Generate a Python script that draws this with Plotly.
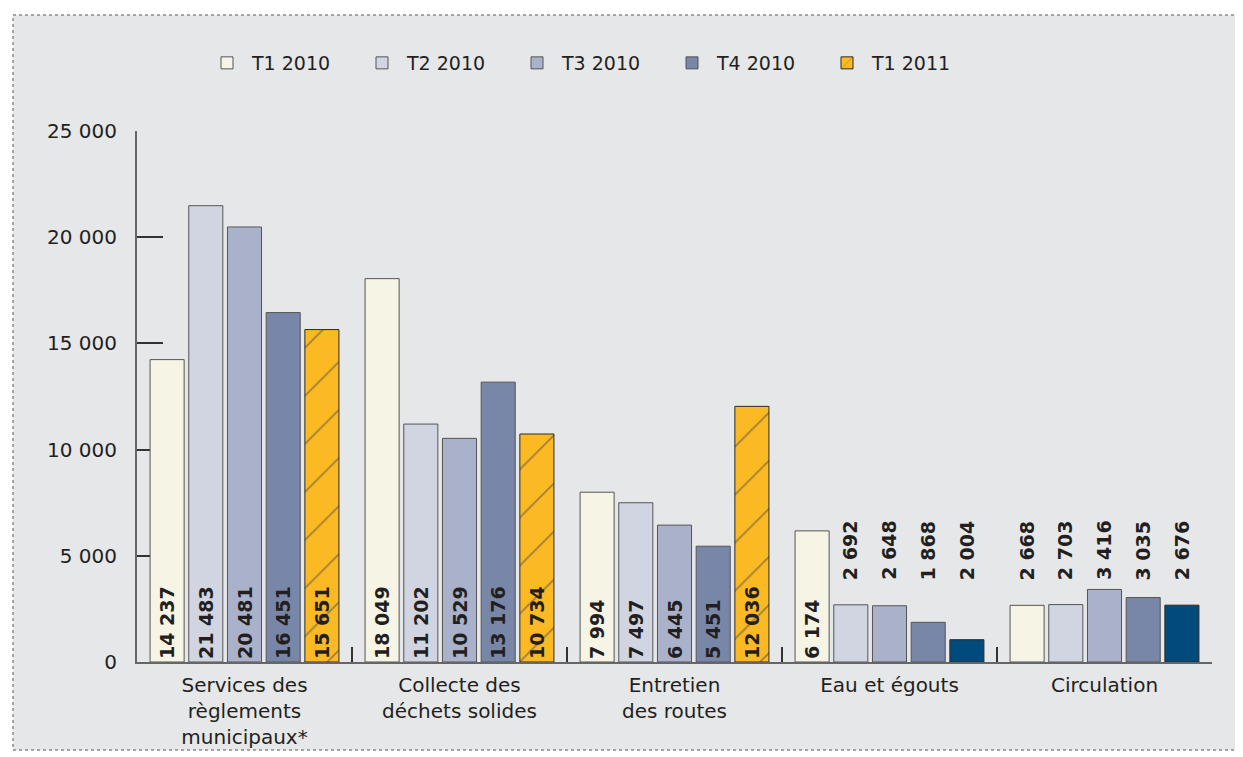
import plotly.graph_objects as go

categories = ["Services des<br>règlements<br>municipaux*", "Collecte des<br>déchets solides",
              "Entretien<br>des routes", "Eau et égouts", "Circulation"]
series_names = ["T1 2010", "T2 2010", "T3 2010", "T4 2010", "T1 2011"]

t1_2010 = [14237, 18049, 7994, 6174, 2668]
t2_2010 = [21483, 11202, 7497, 2692, 2703]
t3_2010 = [20481, 10529, 6445, 2648, 3416]
t4_2010 = [16451, 13176, 5451, 1868, 3035]
t1_2011 = [15651, 10734, 12036, 1050, 2676]          # bar heights as drawn
t1_2011_labels = [15651, 10734, 12036, 2004, 2676]   # printed labels

values = [t1_2010, t2_2010, t3_2010, t4_2010, t1_2011]
labels = [t1_2010, t2_2010, t3_2010, t4_2010, t1_2011_labels]

colors = ["#f6f4e5", "#d1d5e2", "#aab1cb", "#7886a8", "#fbb923"]
t1_2011_colors = ["#fbb923", "#fbb923", "#fbb923", "#004a7c", "#004a7c"]
t1_2011_hatch = ["/", "/", "/", "", ""]

TXT = "#231f20"
FONT = "DejaVu Sans"

def fmt(v):
    return f"{v:,}".replace(",", " ")

# page offset (body margin) and plot area in screen pixels
OFF = 8
FW, FH = 1243, 757
L, R, T, B = 137, 1212, 131, 662
W, H = R - L, B - T
def px(x): return (x - L) / W
def py(y): return (B - y) / H

BARGAP = 0.1
slot = (1 - BARGAP) / 5
INSIDE_MIN = 5000
OUT_Y = 3750

fig = go.Figure()
annotations = []
for j, name in enumerate(series_names):
    vals = values[j]
    texts = [fmt(l) if v >= INSIDE_MIN else "" for v, l in zip(vals, labels[j])]
    if j == 4:
        marker = dict(color=t1_2011_colors, line=dict(color="#2a2a2a", width=1),
                      pattern=dict(shape=t1_2011_hatch, fgcolor="#1a1a1a",
                                   size=34, solidity=0.05, fillmode="overlay"))
    else:
        marker = dict(color=colors[j], line=dict(color="#555555", width=1))
    fig.add_trace(go.Bar(
        name=name, x=categories, y=vals, marker=marker,
        text=texts, textposition="inside", insidetextanchor="start", textangle=-90,
        constraintext="none",
        insidetextfont=dict(family=FONT, size=19, color=TXT, weight=600),
    ))
    for i, (v, l) in enumerate(zip(vals, labels[j])):
        if v < INSIDE_MIN:
            annotations.append(dict(
                x=i + (j - 2) * slot, y=OUT_Y, xref="x", yref="y",
                text=fmt(l), textangle=-90, showarrow=False,
                xanchor="center", yanchor="bottom",
                font=dict(family=FONT, size=19, color=TXT, weight=600)))

fig.update_layout(
    width=FW, height=FH,
    margin=dict(l=L - OFF, r=FW - (R - OFF), t=T - OFF, b=FH - (B - OFF), pad=0, autoexpand=False),
    barmode="group", bargap=BARGAP, bargroupgap=0.12,
    paper_bgcolor="white", plot_bgcolor="#e6e7e9",
    separators=", ",
    font=dict(family=FONT, size=20, color=TXT),
    showlegend=True,
    legend=dict(orientation="h", x=px(202), y=py(44), xanchor="left", yanchor="top",
                font=dict(family=FONT, size=19, color=TXT), bgcolor="rgba(0,0,0,0)",
                entrywidth=100, entrywidthmode="pixels", itemwidth=40, traceorder="normal"),
    annotations=annotations,
    shapes=[dict(type="rect", xref="paper", yref="paper", layer="below",
                 x0=px(13), x1=px(1237), y0=py(750), y1=py(15),
                 fillcolor="#e6e7e9", line=dict(color="#8a8a8a", width=1.5, dash="dot"))],
)
fig.update_xaxes(
    type="category", showline=True, linecolor="#666666", linewidth=2,
    ticks="inside", tickson="boundaries", ticklen=15, tickcolor="#333333", tickwidth=1.5,
    ticklabelstandoff=4,
    tickfont=dict(family=FONT, size=20, color=TXT), showgrid=False, layer="below traces",
)
fig.update_yaxes(
    range=[0, 25000], tickvals=[0, 5000, 10000, 15000, 20000, 25000], tickformat=",d",
    showline=True, linecolor="#666666", linewidth=2, ticks="inside", ticklen=26,
    tickcolor="#333333", tickwidth=1.5, showgrid=False, zeroline=False,
    ticklabelstandoff=14, tickfont=dict(family=FONT, size=20, color=TXT), layer="below traces",
)

fig.write_html("out.html")
